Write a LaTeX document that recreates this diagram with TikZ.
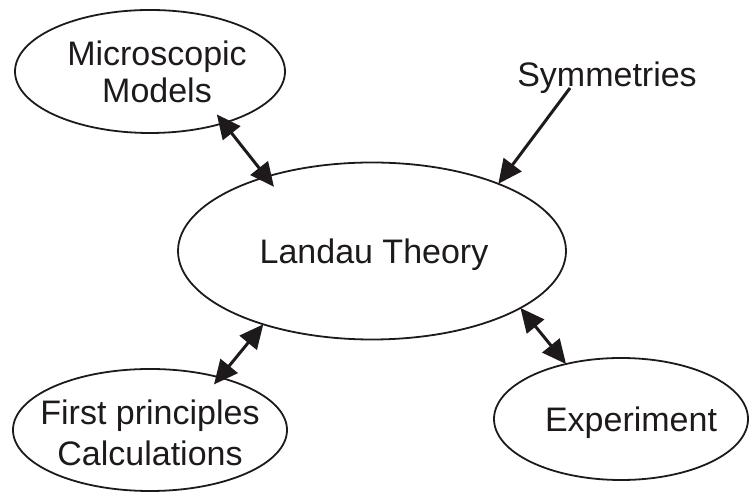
\documentclass[tikz,border=0pt]{standalone}
\usepackage{fontspec}
\setmainfont{Liberation Sans}
\usetikzlibrary{shapes.geometric,arrows.meta}
\definecolor{ink}{RGB}{30,26,27}
\tikzset{
  bubble/.style={ellipse, draw=ink, line width=1.8pt, inner sep=0pt, outer sep=0pt},
  lbl/.style={inner sep=0pt, text=ink, align=center, text depth=0pt, font=\fontsize{34}{37}\selectfont},
  link/.style={draw=ink, line width=3pt, -{Triangle[length=24pt,width=22pt]}},
  dlink/.style={draw=ink, line width=3pt, {Triangle[length=24pt,width=22pt]}-{Triangle[length=24pt,width=22pt]}}
}
\begin{document}
\begin{tikzpicture}[x=1pt,y=1pt]
\useasboundingbox (0,0) rectangle (749,494);
\node[bubble, minimum width=270pt, minimum height=123pt] (micro) at (150,422.5) {};
\node[lbl] (microt) at ([xshift=7pt]micro.center) {Microscopic\\Models};
\node[bubble, minimum width=388pt, minimum height=177pt] (land) at (372,243) {};
\node[lbl] (landt) at ([xshift=2pt]land.center) {Landau Theory};
\node[bubble, minimum width=274pt, minimum height=122pt] (first) at (150,64) {};
\node[lbl, font=\fontsize{34}{41}\selectfont] (firstt) at ([yshift=-3pt]first.center) {First principles\\Calculations};
\node[bubble, minimum width=254pt, minimum height=122pt] (exp) at (621,75) {};
\node[lbl] (expt) at ([xshift=10pt]exp.center) {Experiment};
\node[lbl, anchor=base, text depth=] (sym) at (607,407) {Symmetries};
\draw[dlink, shorten <=-11pt, shorten >=-12.7pt] (micro.-35.9) -- (land.145.4);
\draw[dlink, shorten >=-9pt] (land.214.9) -- (first.37.1);
\draw[dlink] (land.-21.4) -- (exp.135);
\draw[link] ([xshift=-37pt,yshift=-1pt]sym.base) -- (land.28.4);
\end{tikzpicture}
\end{document}
